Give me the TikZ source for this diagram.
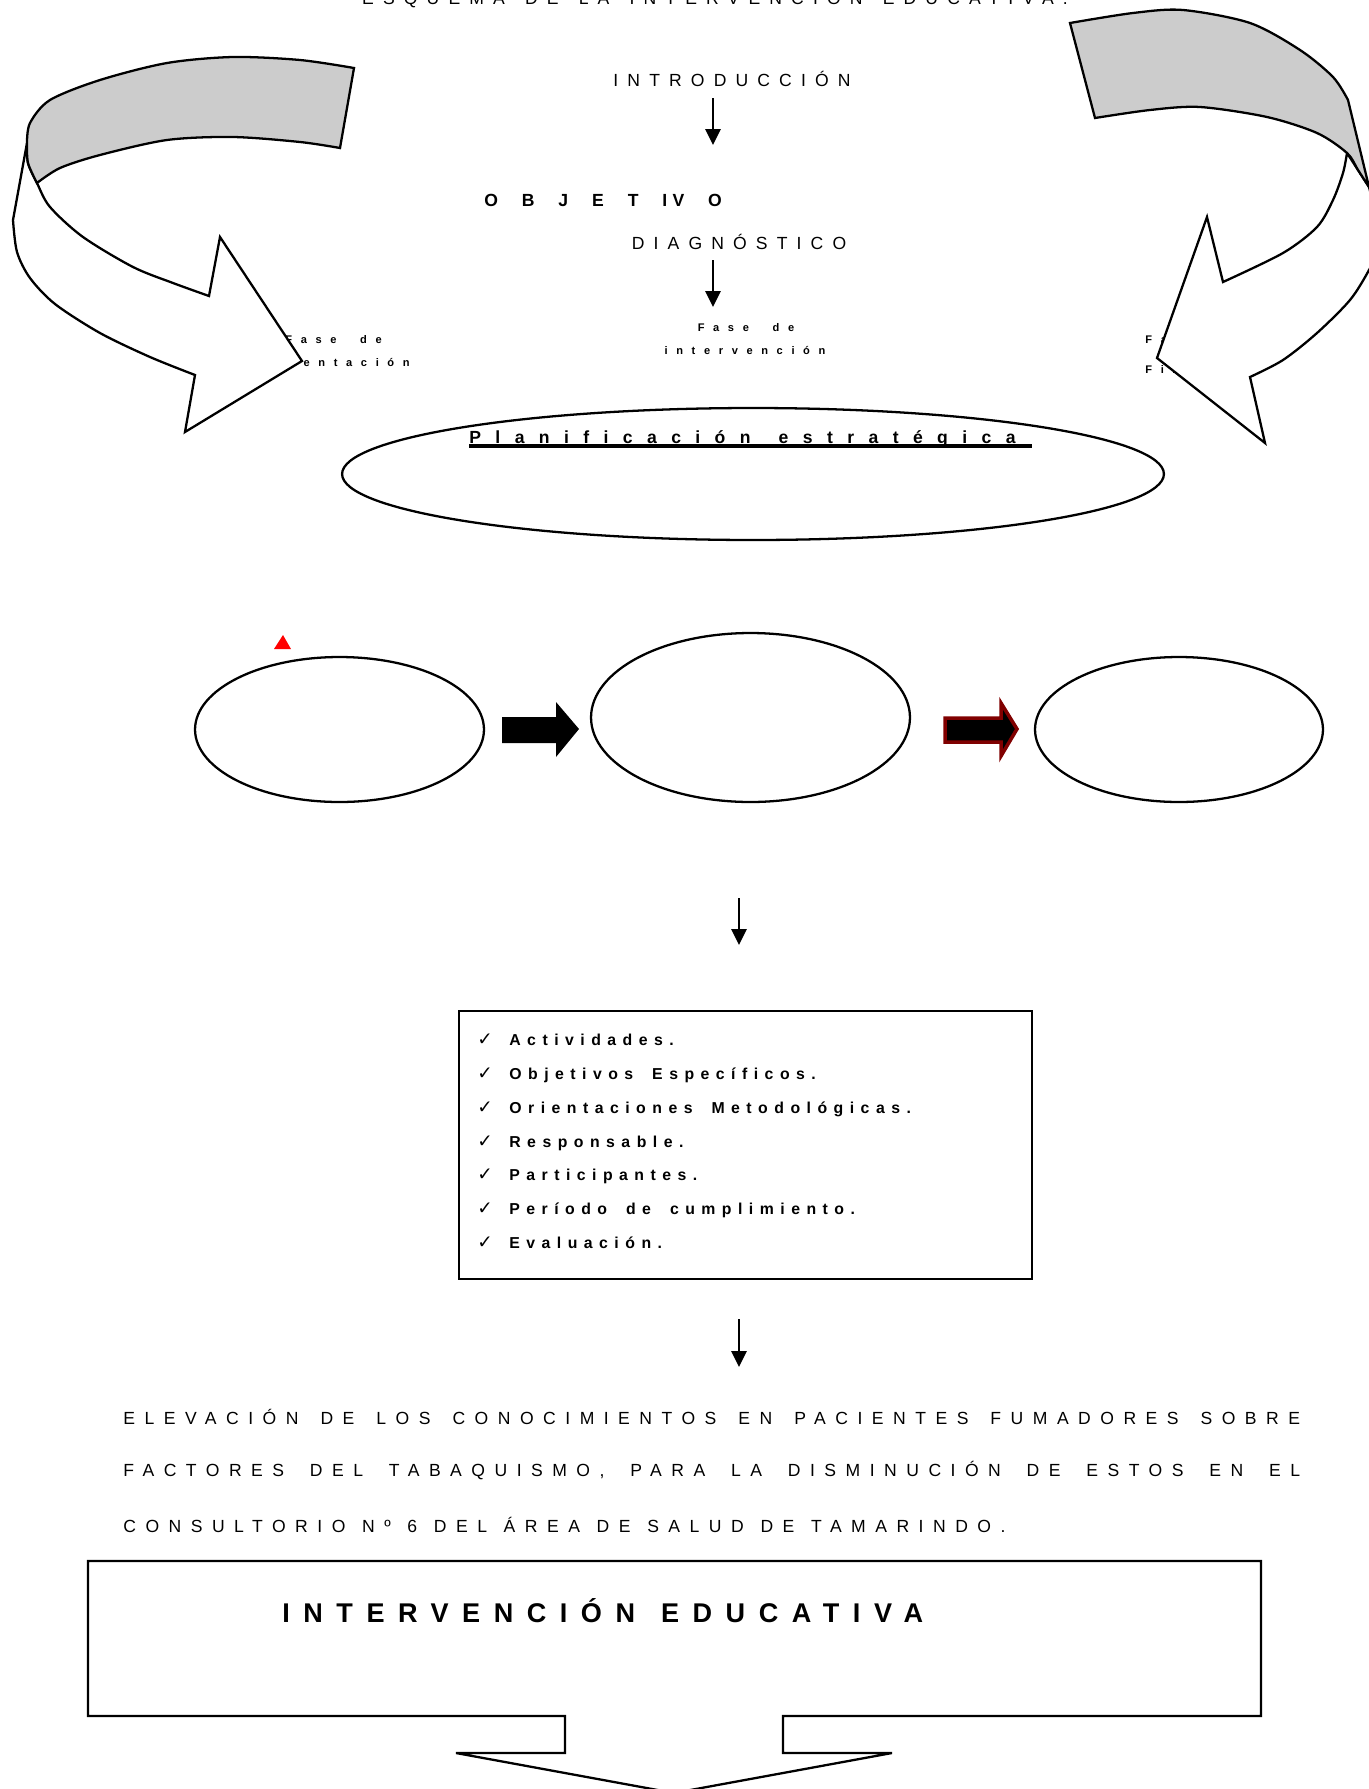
\documentclass[tikz,border=0pt]{standalone}
\usepackage{fontspec}
\setmainfont{Liberation Sans}
\newfontfamily\checkfont{DejaVu Sans}
\usetikzlibrary{arrows.meta,shapes.geometric}
\definecolor{arrowred}{HTML}{800000}
\definecolor{bandgray}{HTML}{CCCCCC}
\newcommand\objgap{\hspace{13.6pt}}
\newcommand\wordgap[1]{\spaceskip #1\relax}

\tikzset{
  caps/.style={inner sep=0pt, font=\fontsize{10}{12}\selectfont\addfontfeatures{LetterSpace=52}\wordgap{11.5pt plus 2pt}},
  smallbold/.style={inner sep=0pt, font=\fontsize{6.3}{8}\selectfont\bfseries\addfontfeatures{LetterSpace=78}\wordgap{13.5pt plus 1pt}},
  listtext/.style={inner sep=0pt, anchor=base west, font=\fontsize{9}{11}\selectfont\bfseries\addfontfeatures{LetterSpace=41}\wordgap{10.8pt plus 2pt}},
  paratext/.style={inner sep=0pt, anchor=base west, font=\fontsize{10}{12}\selectfont\addfontfeatures{LetterSpace=54}\wordgap{9.5pt plus 5pt minus 1pt}},
  thickline/.style={line width=1.3pt},
  flowarrow/.style={line width=1.4pt, -{Triangle[width=8.5pt,length=9pt]}},
  phasebox/.style={draw, ellipse, line width=1.3pt, inner sep=0pt},
  greyband/.style={thickline, fill=bandgray, line join=miter},
  whiteribbon/.style={thickline, fill=white, line join=miter},
}

\begin{document}
\begin{tikzpicture}[x=0.02cm,y=-0.02cm]
	\useasboundingbox (0,0) rectangle (1369,1789);
	
	%%%%% top %%%%%
	\node[caps, anchor=base] (titulo) at (715,4) {ESQUEMA DE LA INTERVENCIÓN EDUCATIVA.};
	\node[caps, anchor=base] (intro) at (732,86) {INTRODUCCIÓN};
	\coordinate (a1s) at (713,98);
	\coordinate (a1e) at (713,145);
	\draw[flowarrow] (a1s) -- (a1e);
	
	\node[inner sep=0pt, anchor=base west, font=\fontsize{10}{12}\selectfont\bfseries] (objetivo) at (484,206)
		{O\objgap B\objgap J\objgap E\objgap T\objgap I\hspace{3pt}V\objgap O};
	\node[caps, anchor=base] (diag) at (739,249) {DIAGNÓSTICO};
	\coordinate (a2s) at (713,260);
	\coordinate (a2e) at (713,307);
	\draw[flowarrow] (a2s) -- (a2e);
	
	\node[smallbold, anchor=base] (faseI) at (746,331) {Fase de};
	\node[smallbold, anchor=base] (faseIb) at (745,354) {intervención};
	
	\node[smallbold, anchor=base west] (faseO) at (285,343) {Fase de};
	\node[smallbold, anchor=base east] (faseOb) at (410,366) {orientación};
	\node[smallbold, anchor=base west] (faseF) at (1145,343) {Fase de};
	\node[smallbold, anchor=base west] (faseFb) at (1145,373) {Final};
	
	%%%%% curved arrows %%%%%
	\draw[whiteribbon] (27,143) -- (13,220) -- plot[smooth] coordinates {(13,220) (17,252) (30,278) (55,304) (100,333) (150,357) (195,375)}
		-- (185,432) -- (302,361) -- (220,237)
		-- plot[smooth] coordinates {(209,296) (173,283) (133,267) (83,237) (50,207) (37,183) (28,163) (27,143)} -- cycle;
	\draw[greyband] plot[smooth] coordinates {(27,143) (30,123) (50,100) (100,80) (167,63) (233,57) (300,60) (354,68)}
		-- (340,148)
		-- plot[smooth] coordinates {(340,148) (300,142) (233,137) (167,140) (100,155) (60,168) (37,183)}
		-- plot[smooth] coordinates {(37,183) (28,163) (27,143)} -- cycle;
	
	\draw[whiteribbon] plot[smooth] coordinates {(1347,153) (1358,170) (1369,187)} -- (1376,215)
		-- plot[smooth] coordinates {(1376,215) (1380,245) (1369,270) (1350,300) (1317,333) (1283,360) (1250,377)}
		-- (1265,443) -- (1157,358) -- (1207,217)
		-- plot[smooth] coordinates {(1223,282) (1283,253) (1317,227) (1333,200) (1343,173) (1347,153)} -- cycle;
	\draw[greyband] plot[smooth] coordinates {(1070,23) (1133,13) (1183,10) (1250,23) (1300,50) (1333,77) (1348,100)}
		-- (1369,187)
		-- plot[smooth] coordinates {(1369,187) (1358,170) (1347,153) (1317,133) (1267,117) (1200,107) (1150,110) (1095,118)} -- cycle;
	
	%%%%% planificacion %%%%%
	\node[phasebox, minimum width=16.44cm, minimum height=2.64cm] (plan) at (753,474) {};
	\node[inner sep=0pt, anchor=base west, font=\fontsize{10}{12}\selectfont\bfseries\addfontfeatures{LetterSpace=82}\wordgap{16pt}] (plantxt) at (469,443) {Planificación estratégica};
	\draw[line width=1.9pt] (469,446) -- (1032,446);
	
	%%%%% phases %%%%%
	\node[phasebox, minimum width=5.78cm, minimum height=2.9cm] (fase1) at (339.5,729.5) {};
	\node[phasebox, minimum width=6.38cm, minimum height=3.38cm] (fase2) at (750.5,717.5) {};
	\node[phasebox, minimum width=5.76cm, minimum height=2.9cm] (fase3) at (1179,729.5) {};
	\fill[red] (274,649) -- (291,649) -- (283,635) -- cycle;
	
	\fill (502,717) -- (556,717) -- (556,702) -- (579,729) -- (556,757) -- (556,743) -- (502,743) -- cycle;
	\filldraw[fill=black, draw=arrowred, line width=2pt, line join=miter] (945,718) -- (1001,718) -- (1001,703) -- (1017,729) -- (1001,756) -- (1001,742) -- (945,742) -- cycle;
	
	\coordinate (a3s) at (739,898);
	\coordinate (a3e) at (739,945);
	\draw[flowarrow] (a3s) -- (a3e);
	
	%%%%% list %%%%%
	\node[draw, line width=1.3pt, minimum width=11.46cm, minimum height=5.36cm, inner sep=0pt] (lista) at (745.5,1145) {};
	\foreach \entry [count=\i] in {Actividades., Objetivos Específicos., Orientaciones Metodológicas., Responsable., Participantes., Período de cumplimiento., Evaluación.} {
		\node[inner sep=0pt, anchor=base, font=\fontsize{10.5}{12}\selectfont\checkfont] (chk\i) at (485,{1045.7+33.8*(\i-1)}) {✓};
		\node[listtext] (item\i) at (509,{1045.7+33.8*(\i-1)}) {\entry};
	}
	
	\coordinate (a4s) at (739,1319);
	\coordinate (a4e) at (739,1367);
	\draw[flowarrow] (a4s) -- (a4e);
	
	%%%%% result %%%%%
	\node[paratext] (linea1) at (123,1424) {\makebox[23.54cm][s]{ELEVACIÓN DE LOS CONOCIMIENTOS EN PACIENTES FUMADORES SOBRE}};
	\node[paratext] (linea2) at (123,1476) {\makebox[23.54cm][s]{FACTORES DEL TABAQUISMO, PARA LA DISMINUCIÓN DE ESTOS EN EL}};
	\node[paratext] (linea3) at (123,1532) {CONSULTORIO Nº 6 DEL ÁREA DE SALUD DE TAMARINDO.};
	
	\draw[thickline] (88,1561) -- (1261,1561) -- (1261,1716) -- (783,1716) -- (783,1753) -- (892,1753) -- (674,1793)
		-- (456,1753) -- (565,1753) -- (565,1716) -- (88,1716) -- cycle;
	\node[inner sep=0pt, anchor=base west, font=\fontsize{15.4}{18}\selectfont\bfseries\addfontfeatures{LetterSpace=50}\wordgap{14.8pt}] (interv) at (282,1622) {INTERVENCIÓN EDUCATIVA};
	
\end{tikzpicture}
\end{document}
